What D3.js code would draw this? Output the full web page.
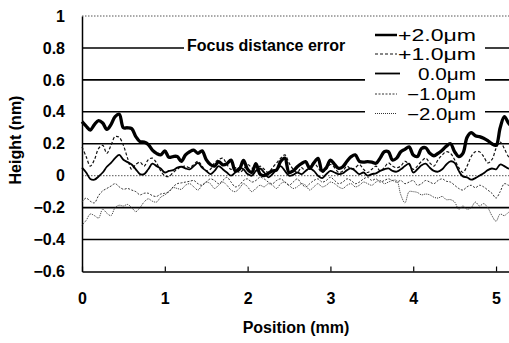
<!DOCTYPE html>
<html>
<head>
<meta charset="utf-8">
<script src="https://cdn.jsdelivr.net/npm/d3@7"></script>
<style>
html,body{margin:0;padding:0;background:#fff;}
svg{display:block;}
text{font-family:"Liberation Sans",Arial,sans-serif;}
</style>
</head>
<body>
<svg id="chart" width="509" height="343"></svg>
<script>
// ---- data ----
const positions = [0,0.05,0.1,0.15,0.2,0.25,0.3,0.35,0.4,0.45,0.5,0.55,0.6,0.65,0.7,0.75,0.8,0.85,0.9,0.95,
1,1.05,1.1,1.15,1.2,1.25,1.3,1.35,1.4,1.45,1.5,1.55,1.6,1.65,1.7,1.75,1.8,1.85,1.9,1.95,
2,2.05,2.1,2.15,2.2,2.25,2.3,2.35,2.4,2.45,2.5,2.55,2.6,2.65,2.7,2.75,2.8,2.85,2.9,2.95,
3,3.05,3.1,3.15,3.2,3.25,3.3,3.35,3.4,3.45,3.5,3.55,3.6,3.65,3.7,3.75,3.8,3.85,3.9,3.95,
4,4.05,4.1,4.15,4.2,4.25,4.3,4.35,4.4,4.45,4.5,4.55,4.6,4.65,4.7,4.75,4.8,4.85,4.9,4.95,
5,5.05,5.1,5.15,5.2];

const plus2 = [0.338,0.31,0.286,0.32,0.345,0.33,0.29,0.32,0.37,0.385,0.30,0.30,0.295,0.245,0.213,0.21,0.195,0.16,0.14,0.13,
0.155,0.115,0.12,0.12,0.09,0.13,0.15,0.16,0.14,0.155,0.10,0.07,0.06,0.088,0.068,0.075,0.098,0.03,0.04,0.095,
0.04,0.02,0.075,0.01,0.0,0.015,0.03,0.036,0.09,0.11,0.02,0.03,0.056,0.075,0.088,0.046,0.08,0.109,0.03,0.05,
0.098,0.07,0.046,0.056,0.09,0.119,0.13,0.09,0.085,0.088,0.085,0.078,0.11,0.15,0.15,0.098,0.11,0.15,0.165,0.18,
0.13,0.12,0.17,0.175,0.14,0.125,0.14,0.16,0.185,0.2,0.15,0.12,0.14,0.24,0.27,0.25,0.245,0.235,0.22,0.2,
0.19,0.30,0.37,0.33,0.3];

const plus1 = [0.18,0.12,0.06,0.1,0.17,0.19,0.14,0.19,0.245,0.24,0.19,0.11,0.04,0.07,0.085,0.06,0.1,0.11,0.08,0.03,
0.0,-0.005,0.02,0.04,0.056,0.06,0.05,0.07,0.09,0.06,0.03,0.04,0.08,0.1,0.11,0.07,0.04,0.05,0.02,0.04,
0.07,0.05,0.03,0.06,0.04,0.02,0.05,0.08,0.11,0.13,0.08,0.04,0.02,0.05,0.03,0.06,0.08,0.05,0.02,0.04,
0.07,0.05,0.02,0.03,0.06,0.04,0.05,0.07,0.04,0.02,0.04,0.06,0.03,0.05,0.08,0.06,0.05,0.06,0.09,0.07,
0.04,0.06,0.09,0.11,0.08,0.06,0.1,0.13,0.15,0.14,0.1,0.05,0.02,0.06,0.12,0.15,0.15,0.12,0.08,0.1,
0.17,0.21,0.17,0.12,0.1];

const zero = [0.05,0.02,-0.02,-0.025,-0.005,0.02,0.056,0.08,0.11,0.13,0.1,0.085,0.07,0.04,0.01,0.01,0.04,0.075,0.06,0.045,
0.02,0.03,0.035,0.05,0.056,0.046,0.04,0.06,0.08,0.05,0.03,0.01,0.03,0.06,0.04,0.02,0.0,0.02,0.05,0.04,
0.01,0.0,0.03,0.045,0.02,-0.01,0.01,0.04,0.06,0.03,0.0,0.005,0.02,0.01,0.03,0.046,0.03,0.0,-0.015,0.01,
0.03,0.02,0.01,0.015,0.035,0.046,0.03,0.01,0.02,0.0,0.01,0.015,0.03,0.04,0.046,0.03,0.025,0.04,0.06,0.075,
0.02,0.04,0.065,0.075,0.05,0.03,0.025,0.04,0.07,0.09,0.08,0.03,-0.005,-0.01,-0.025,-0.015,0.0,0.015,0.035,0.045,
0.04,0.07,0.06,0.045,0.04];

const minus1 = [-0.165,-0.14,-0.16,-0.17,-0.125,-0.095,-0.08,-0.065,-0.05,-0.07,-0.085,-0.08,-0.09,-0.1,-0.12,-0.11,-0.11,-0.125,-0.13,-0.115,
-0.11,-0.1,-0.07,-0.05,-0.045,-0.04,-0.035,-0.03,-0.05,-0.06,-0.04,-0.02,-0.03,-0.05,-0.03,-0.01,-0.04,-0.07,-0.06,-0.03,
-0.02,-0.04,-0.03,-0.01,-0.02,-0.04,-0.05,-0.03,-0.02,-0.04,-0.06,-0.04,-0.02,-0.05,-0.07,-0.05,-0.03,-0.02,-0.04,-0.03,
-0.01,-0.03,-0.05,-0.04,-0.02,-0.03,-0.05,-0.04,-0.02,-0.01,-0.03,-0.02,-0.04,-0.03,-0.02,-0.03,-0.04,-0.03,-0.05,-0.04,
-0.03,-0.06,-0.05,-0.03,-0.04,-0.05,-0.03,-0.02,-0.035,-0.04,-0.06,-0.08,-0.09,-0.07,-0.06,-0.075,-0.06,-0.07,-0.09,-0.11,
-0.14,-0.1,-0.05,-0.06,-0.07];

const minus2 = [-0.31,-0.28,-0.24,-0.25,-0.265,-0.21,-0.235,-0.25,-0.2,-0.185,-0.19,-0.18,-0.2,-0.225,-0.2,-0.165,-0.145,-0.16,-0.165,-0.135,
-0.12,-0.1,-0.075,-0.08,-0.085,-0.06,-0.05,-0.07,-0.09,-0.06,-0.04,-0.05,-0.08,-0.06,-0.04,-0.06,-0.09,-0.1,-0.08,-0.05,
-0.07,-0.1,-0.08,-0.06,-0.07,-0.05,-0.06,-0.08,-0.05,-0.04,-0.06,-0.08,-0.07,-0.05,-0.06,-0.09,-0.07,-0.05,-0.07,-0.06,
-0.04,-0.05,-0.07,-0.08,-0.06,-0.05,-0.07,-0.06,-0.04,-0.05,-0.06,-0.04,-0.03,-0.05,-0.04,-0.03,-0.03,-0.12,-0.17,-0.1,
-0.1,-0.105,-0.12,-0.115,-0.12,-0.135,-0.14,-0.13,-0.15,-0.15,-0.165,-0.21,-0.19,-0.21,-0.2,-0.165,-0.19,-0.175,-0.2,-0.25,
-0.285,-0.24,-0.25,-0.23,-0.22];

const seriesNames = ["+2.0μm","+1.0μm","0.0μm","−1.0μm","−2.0μm"];
const seriesValues = [plus2, plus1, zero, minus1, minus2];

const xTicks = [0,1,2,3,4,5];
const xTickLabels = ["0","1","2","3","4","5"];
const yTicks = [-0.6,-0.4,-0.2,0,0.2,0.4,0.6,0.8,1];
const yTickLabels = ["−0.6","−0.4","−0.2","0","0.2","0.4","0.6","0.8","1"];
const gridValues = [-0.4,-0.2,0.2,0.4,0.6,0.8];
const legendTitle = "Focus distance error";
const xTitle = "Position (mm)";
const yTitle = "Height (nm)";

// ---- styles ----
const styles = [
  {stroke:"#000", width:3.3, dash:null},
  {stroke:"#111", width:1.2, dash:"3,2"},
  {stroke:"#000", width:1.8, dash:null},
  {stroke:"#333", width:1.0, dash:"2,1.5"},
  {stroke:"#333", width:1.0, dash:"1,1"}
];

const svg = d3.select("#chart");
const x = d3.scaleLinear().domain([0,5.2]).range([82,512.6]);
const y = d3.scaleLinear().domain([-0.6,1]).range([271.5,16]);

// gridlines
svg.append("g").selectAll("line").data(gridValues).join("line")
  .attr("x1",x(0)).attr("x2",x(5.2))
  .attr("y1",d=>y(d)).attr("y2",d=>y(d))
  .attr("stroke","#000").attr("stroke-width",1.6);
// zero line and top line (dotted)
svg.append("g").selectAll("line").data([0,1]).join("line")
  .attr("x1",x(0)).attr("x2",x(5.2))
  .attr("y1",d=>y(d)).attr("y2",d=>y(d))
  .attr("stroke","#555").attr("stroke-width",1).attr("stroke-dasharray","1.5,1.5");

// axes
const xAxis = svg.append("g").attr("transform",`translate(0,${y(-0.6)})`)
  .call(d3.axisBottom(x).tickValues(xTicks).tickFormat((d,i)=>xTickLabels[i])
    .tickSize(-5).tickSizeOuter(0).tickPadding(21));
xAxis.select(".domain").attr("stroke","#000").attr("stroke-width",1.5);
xAxis.selectAll(".tick line").attr("stroke","#000").attr("stroke-width",1.2);
xAxis.selectAll("text").attr("font-size",16).attr("font-weight","bold").attr("fill","#000");

const yAxis = svg.append("g").attr("transform",`translate(${x(0)},0)`)
  .call(d3.axisLeft(y).tickValues(yTicks).tickFormat((d,i)=>yTickLabels[i])
    .tickSize(0).tickSizeOuter(0).tickPadding(17));
yAxis.select(".domain").attr("stroke","#000").attr("stroke-width",1.5);
yAxis.selectAll("text").attr("font-size",16).attr("font-weight","bold").attr("fill","#000");

// series
const line = d3.line().x((d,i)=>x(positions[i])).y(d=>y(d)).curve(d3.curveCatmullRom.alpha(0.5));
const order = [4,3,1,2,0];
svg.append("g").selectAll("path").data(order).join("path")
  .attr("d",k=>line(seriesValues[k]))
  .attr("fill","none")
  .attr("stroke",k=>styles[k].stroke)
  .attr("stroke-width",k=>styles[k].width)
  .attr("stroke-dasharray",k=>styles[k].dash)
  .attr("stroke-linejoin","round");

// legend
svg.append("rect").attr("x",184).attr("y",36).attr("width",181).attr("height",22).attr("fill","#fff");
svg.append("rect").attr("x",365).attr("y",24).attr("width",120).attr("height",98).attr("fill","#fff");
svg.append("text").attr("x",187).attr("y",51).attr("font-size",16).attr("font-weight","bold")
  .attr("fill","#000").text(legendTitle);

const legRowY = [35,54,73.5,94,113.5];
const legTextStart = [398,398,418,407,407];
const lg = svg.append("g").selectAll("g").data(seriesNames).join("g");
lg.append("line")
  .attr("x1",375).attr("x2",(d,i)=>i===2?400:397)
  .attr("y1",(d,i)=>legRowY[i]).attr("y2",(d,i)=>legRowY[i])
  .attr("stroke",(d,i)=>styles[i].stroke)
  .attr("stroke-width",(d,i)=>Math.min(styles[i].width,2.5))
  .attr("stroke-dasharray",(d,i)=>styles[i].dash);
lg.append("text")
  .attr("x",(d,i)=>legTextStart[i]).attr("y",(d,i)=>legRowY[i]+6)
  .attr("font-size",16).attr("fill","#000")
  .attr("textLength",(d,i)=>476-legTextStart[i]).attr("lengthAdjust","spacingAndGlyphs")
  .text(d=>d);

// axis titles
svg.append("text").attr("x",296).attr("y",333).attr("text-anchor","middle")
  .attr("font-size",16).attr("font-weight","bold").attr("fill","#000").text(xTitle);
svg.append("text").attr("transform","translate(21,140) rotate(-90)").attr("text-anchor","middle")
  .attr("font-size",16).attr("font-weight","bold").attr("fill","#000").text(yTitle);
</script>
</body>
</html>
